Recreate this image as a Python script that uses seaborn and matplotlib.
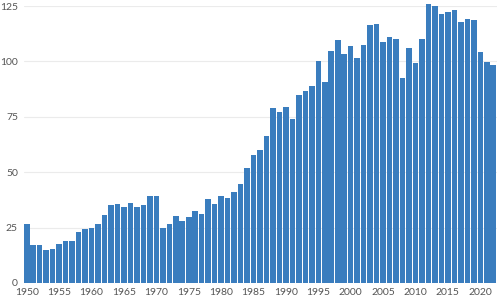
import matplotlib
matplotlib.use("Agg")
import matplotlib.pyplot as plt
import seaborn as sns
import pandas as pd

years = list(range(1950, 2023))
values = [26.5, 17.1, 17.1, 14.7, 15.3, 17.7, 18.9, 18.9, 22.9, 24.5,
          24.8, 26.5, 30.7, 35.0, 35.8, 34.3, 35.9, 34.3, 35.0, 39.1,
          39.1, 25.0, 26.5, 30.2, 27.8, 29.9, 32.5, 31.3, 37.7, 35.8,
          39.1, 38.3, 41.2, 44.5, 52.0, 57.6, 59.8, 66.3, 79.1, 77.0,
          79.4, 74.1, 84.6, 86.6, 88.7, 100.0, 90.6, 104.8, 109.5, 103.3,
          106.8, 101.4, 107.4, 116.3, 117.0, 108.6, 110.9, 110.3, 92.7, 105.9,
          99.1, 110.3, 125.9, 125.1, 121.4, 122.3, 123.0, 117.6, 119.1, 118.8,
          104.2, 99.9, 98.2]
y_ticks = [0, 25, 50, 75, 100, 125]
x_tick_labels = [str(y) for y in range(1950, 2021, 5)]

df = pd.DataFrame({"year": years, "value": values})

sns.set_theme(style="white")
plt.rcParams['font.family'] = ['Lato', 'DejaVu Sans']

fig = plt.figure(figsize=(5, 3), dpi=100)
ax = fig.add_axes([0.047, 0.057, 0.946, 0.923])

sns.barplot(data=df, x="year", y="value", color="#3a7dbe", width=0.86,
            saturation=1, ax=ax, linewidth=0)
for p in ax.patches:
    p.set_clip_on(False)

ax.set_ylim(0, 125)
ax.set_xlim(-0.5, len(years) - 0.5)
ax.set_yticks(y_ticks)
ax.set_yticklabels([str(t) for t in y_ticks])
pos = [years.index(int(l)) for l in x_tick_labels]
ax.set_xticks(pos)
ax.set_xticklabels(x_tick_labels)
ax.yaxis.grid(True, color="#ebebeb", linewidth=0.8)
ax.set_axisbelow(True)
for s in ax.spines.values():
    s.set_visible(False)
ax.tick_params(axis="x", length=3, width=0.6, color="#999999", pad=1,
               labelsize=7.5, labelcolor="#555555", direction="out")
ax.tick_params(axis="y", length=0, pad=4, labelsize=7.5, labelcolor="#555555")
ax.set_xlabel("")
ax.set_ylabel("")

fig.savefig("out.png", dpi=100, facecolor="white")
